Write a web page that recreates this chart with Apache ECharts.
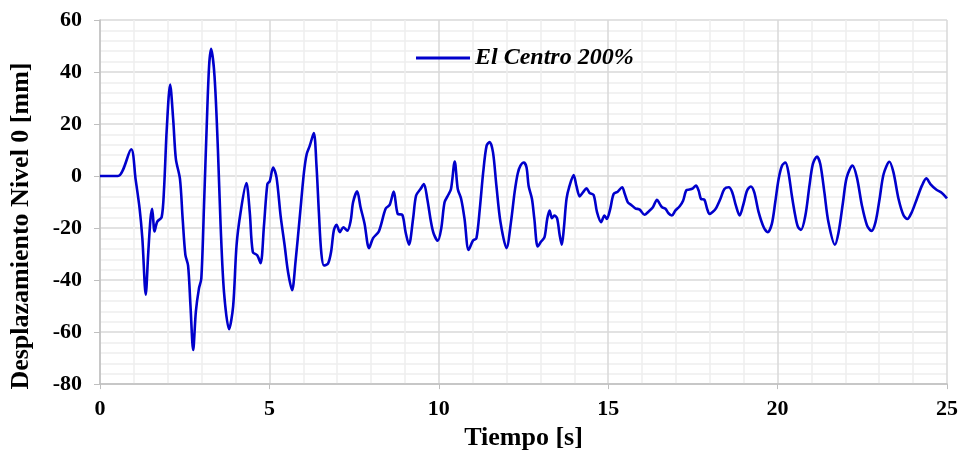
<!DOCTYPE html>
<html>
<head>
<meta charset="utf-8">
<script src="https://cdn.jsdelivr.net/npm/echarts@6/dist/echarts.min.js"></script>
<style>
  html, body { margin: 0; padding: 0; background: #ffffff; }
  #chart { width: 964px; height: 456px; }
</style>
</head>
<body>
<div id="chart"></div>
<script>
// Displacement history at level 0, El Centro record scaled to 200%
const seriesName = 'El Centro 200%';
const timeS = [
  0, 0.53, 0.92, 1.05, 1.17, 1.25, 1.35, 1.42, 1.49, 1.54, 1.61, 1.69, 1.82, 1.89, 1.97,
  2.07, 2.16, 2.24, 2.36, 2.44, 2.52, 2.60, 2.67, 2.75, 2.83, 2.92, 2.99, 3.07, 3.15, 3.22,
  3.28, 3.38, 3.48, 3.56, 3.66, 3.81, 3.93, 4.03, 4.15, 4.32, 4.42, 4.51, 4.64, 4.74, 4.84,
  4.94, 5.01, 5.11, 5.21, 5.33, 5.45, 5.55, 5.67, 5.77, 5.90, 6.02, 6.10, 6.19, 6.31, 6.39,
  6.46, 6.53, 6.61, 6.73, 6.82, 6.90, 6.98, 7.08, 7.18, 7.30, 7.40, 7.47, 7.59, 7.69, 7.81,
  7.94, 8.06, 8.23, 8.43, 8.55, 8.67, 8.79, 8.92, 9.02, 9.12, 9.24, 9.33, 9.46, 9.56, 9.66,
  9.77, 9.85, 9.97, 10.07, 10.17, 10.27, 10.36, 10.47, 10.56, 10.66, 10.76, 10.88, 11.01, 11.11,
  11.21, 11.31, 11.41, 11.50, 11.60, 11.70, 11.82, 12.00, 12.13, 12.24, 12.33, 12.41, 12.51,
  12.59, 12.65, 12.75, 12.82, 12.92, 13.02, 13.12, 13.20, 13.27, 13.34, 13.41, 13.49, 13.57,
  13.63, 13.69, 13.77, 13.86, 13.98, 14.06, 14.16, 14.26, 14.36, 14.45, 14.57, 14.67, 14.79,
  14.89, 14.96, 15.06, 15.16, 15.28, 15.41, 15.49, 15.58, 15.68, 15.80, 15.93, 16.07, 16.19,
  16.32, 16.44, 16.52, 16.59, 16.69, 16.78, 16.88, 16.98, 17.11, 17.21, 17.31, 17.40, 17.50,
  17.59, 17.67, 17.74, 17.84, 17.92, 17.99, 18.09, 18.18, 18.31, 18.43, 18.56, 18.66, 18.77,
  18.88, 18.98, 19.10, 19.21, 19.31, 19.44, 19.59, 19.71, 19.83, 19.93, 20.03, 20.13, 20.23,
  20.32, 20.42, 20.52, 20.60, 20.69, 20.82, 20.94, 21.04, 21.16, 21.26, 21.38, 21.50, 21.69,
  21.80, 21.93, 22.04, 22.21, 22.34, 22.49, 22.64, 22.77, 22.89, 23.01, 23.13, 23.30, 23.42,
  23.57, 23.72, 23.83, 23.96, 24.11, 24.26, 24.39, 24.51, 24.68, 24.85, 25
];
const displacementMm = [
  0, 0, 10.3, -1.2, -12.6, -24, -45.6, -30.5, -16.5, -12.6, -21.3, -17.5, -15.8, -5, 18,
  35.2, 21.8, 6.5, -1.1, -16.5, -30.3, -34.4, -49.7, -66.9, -52, -43.3, -39.5, -11.4, 19.3, 42.3,
  48.9, 38.4, 10.3, -19, -44.6, -58.9, -50, -26.7, -13.9, -2.7, -13.9, -29.2, -30.5, -33.5, -19,
  -3.1, -2, 3.3, -0.5, -15.2, -26.7, -36.9, -43.9, -33.1, -15.2, 1.4, 8.4, 11.6, 16.5, 3.9,
  -13.9, -29.2, -34.4, -33.7, -29.2, -21, -18.7, -21.6, -19.7, -21, -17.1, -10.1, -5.9, -12, -18.4,
  -27.7, -23.9, -21.3, -12.6, -11.1, -6, -14.6, -14.9, -21.6, -26.4, -16.5, -7.5, -5, -3.1, -8.8,
  -17.7, -22.2, -24.9, -20.3, -10.1, -7.5, -5, 5.6, -5, -8.8, -16.5, -28.4, -24.8, -23.9,
  -12.6, 1.4, 11.6, 13.1, 9.1, -3.7, -17.7, -27.7, -17.7, -6, 1, 4, 5.2,
  3.3, -3.7, -8.8, -16.5, -27.1, -25.2, -23.5, -16.5, -13.3, -16.2, -15.2, -16.2, -22.9,
  -26.4, -20.3, -8.8, -3.7, 0.4, -3.7, -7.8, -6.2, -4.7, -6.5, -7.3, -13.9, -17.7,
  -15.2, -16.5, -12.6, -6.9, -6, -4.3, -6.9, -10.1, -11.1, -12.4, -12.9, -14.9, -13.7,
  -12, -9.1, -10.7, -12, -12.6, -14.3, -15.2, -13.3, -11.6, -9.5, -5.4, -5.2, -4.7,
  -3.7, -5.6, -8.8, -9.1, -12.6, -14.6, -13.7, -12.4, -8.8, -5, -4.3, -6.2, -11.4,
  -15.2, -11.4, -5.6, -4, -6.2, -13.9, -19.7, -21.6, -18.4, -10.1, -1.1, 4, 5.2,
  1.4, -7.5, -15.2, -19.5, -20.7, -15.2, -3.7, 4.6, 7.5, 4.6, -6.2, -17.7, -26.4,
  -21.6, -10.1, -0.5, 4, -0.5, -11.4, -19, -21.1, -17.7, -8.8, 0.8, 5.5, 1.4,
  -8.8, -15.2, -16.5, -13.9, -8.8, -3.7, -0.9, -3.1, -5.2, -6.5, -8.6
];
const xAxisRange = [0, 25];
const yAxisRange = [-80, 60];

const points = timeS.map((t, i) => [t, displacementMm[i]]);

const font = '"Liberation Serif", "Times New Roman", serif';
const majorGrid = '#d9d9d9';
const minorGrid = '#eeeeee';
const axisGray = '#bfbfbf';

const chart = echarts.init(document.getElementById('chart'), null, { renderer: 'canvas' });
chart.setOption({
  animation: false,
  backgroundColor: '#ffffff',
  grid: { left: 100, right: 17, top: 20, bottom: 70, containLabel: false },
  legend: {
    left: 411, top: 41,
    itemWidth: 54, itemHeight: 3, itemGap: 6,
    icon: 'rect',
    textStyle: { fontFamily: font, fontSize: 24, fontWeight: 'bold', fontStyle: 'italic', color: '#000' },
    data: [seriesName]
  },
  xAxis: {
    type: 'value',
    min: xAxisRange[0], max: xAxisRange[1], interval: 5,
    name: 'Tiempo [s]', nameLocation: 'middle', nameGap: 35,
    nameTextStyle: { fontFamily: font, fontSize: 26, fontWeight: 'bold', color: '#000' },
    axisLine: { onZero: false, lineStyle: { color: axisGray, width: 1.5 } },
    axisTick: { show: true, length: 5, lineStyle: { color: axisGray } },
    axisLabel: { margin: 14, fontFamily: font, fontSize: 22, fontWeight: 'bold', color: '#000' },
    splitLine: { show: true, lineStyle: { color: majorGrid, width: 1.5 } },
    minorTick: { show: false, splitNumber: 5 },
    minorSplitLine: { show: true, lineStyle: { color: minorGrid, width: 1.5 } }
  },
  yAxis: {
    type: 'value',
    min: yAxisRange[0], max: yAxisRange[1], interval: 20,
    name: 'Desplazamiento Nivel 0 [mm]', nameLocation: 'middle', nameGap: 66,
    nameTextStyle: { fontFamily: font, fontSize: 26, fontWeight: 'bold', color: '#000', padding: [0, 48, 0, 0] },
    axisLine: { show: true, lineStyle: { color: axisGray, width: 1.5 } },
    axisTick: { show: true, length: 6, lineStyle: { color: axisGray } },
    axisLabel: { margin: 18, fontFamily: font, fontSize: 22, fontWeight: 'bold', color: '#000' },
    splitLine: { show: true, lineStyle: { color: majorGrid, width: 1.5 } },
    minorTick: { show: false, splitNumber: 5 },
    minorSplitLine: { show: true, lineStyle: { color: minorGrid, width: 1.5 } }
  },
  series: [{
    name: seriesName,
    type: 'line',
    data: points,
    showSymbol: false,
    symbol: 'none',
    smooth: 0.3,
    lineStyle: { color: '#0000cc', width: 2.6 },
    itemStyle: { color: '#0000cc' }
  }]
});
</script>
</body>
</html>
